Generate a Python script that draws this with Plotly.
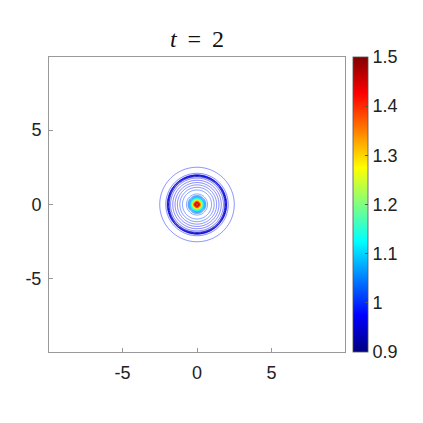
import numpy as np
import plotly.graph_objects as go

# Radial profile of the field (radius, value)
r_nodes = [0.0, 0.1, 0.2, 0.3, 0.4, 0.5, 0.6, 0.75, 0.9, 1.05, 1.15, 1.35, 1.55, 1.75, 1.86, 1.93, 1.99, 2.12, 2.4, 2.6, 3.5, 15.0]
u_nodes = [1.5, 1.46, 1.36, 1.22, 1.12, 1.06, 1.03, 1.016, 1.0105, 1.0095, 1.0, 0.988, 0.975, 0.962, 0.952, 0.915, 0.972, 0.982, 0.988, 0.992, 0.995, 0.997]

grid = np.linspace(-10, 10, 601)
x_range = [-9.93, 9.93]
y_range = [-9.9, 9.9]
cb_ticks = [0.9, 1.0, 1.1, 1.2, 1.3, 1.4, 1.5]
cb_text = ["0.9", "1", "1.1", "1.2", "1.3", "1.4", "1.5"]
axis_ticks = [-5, 0, 5]
axis_text = ["-5", "0", "5"]
title_text = "<i>t</i>\u2009 = \u20092"

X, Y = np.meshgrid(grid, grid)
R = np.sqrt(X**2 + Y**2)
U = np.interp(R, r_nodes, u_nodes)

jet = [[0.0, "rgb(0,0,128)"], [0.125, "rgb(0,0,255)"], [0.375, "rgb(0,255,255)"],
       [0.625, "rgb(255,255,0)"], [0.875, "rgb(255,0,0)"], [1.0, "rgb(128,0,0)"]]

fig = go.Figure()
fig.add_trace(go.Contour(
    x=grid, y=grid, z=U,
    colorscale=jet, zmin=0.9, zmax=1.5,
    contours=dict(start=0.9, end=1.5, size=0.01, coloring="lines"),
    line=dict(width=0.5),
    showscale=False, hoverinfo="skip",
))
fig.add_trace(go.Scatter(
    x=[None], y=[None], mode="markers", showlegend=False,
    marker=dict(colorscale=jet, cmin=0.9, cmax=1.5, color=[1.0], showscale=True,
                colorbar=dict(x=1.027, xanchor="left", y=0.5, yanchor="middle", len=1.0,
                              lenmode="fraction", thickness=15, outlinewidth=0.8,
                              outlinecolor="#555", tickvals=cb_ticks, ticktext=cb_text,
                              ticks="inside", ticklen=3, tickcolor="#555", xpad=0, ypad=0,
                              tickfont=dict(family="Liberation Sans", size=18, color="#222"))),
))

axis_common = dict(showgrid=False, zeroline=False, showline=True, mirror=True,
                   linecolor="#999", linewidth=1, ticks="inside", ticklen=4,
                   tickcolor="#999", tickvals=axis_ticks, ticktext=axis_text,
                   tickfont=dict(family="Liberation Sans", size=18, color="#222"))
fig.update_xaxes(range=x_range, ticklabelstandoff=4, **axis_common)
fig.update_yaxes(range=y_range, ticklabelstandoff=3, **axis_common)

# the page body adds an 8 px offset, so margins are shifted accordingly
fig.update_layout(
    width=423, height=423,
    margin=dict(l=41, r=86, t=49, b=79, autoexpand=False),
    paper_bgcolor="white", plot_bgcolor="white",
    title=dict(text=title_text, x=189 / 423, xanchor="center", y=1 - 31 / 423, yanchor="middle",
               font=dict(family="Liberation Serif", size=24, color="#111")),
    showlegend=False,
)
fig.write_html("out.html")
